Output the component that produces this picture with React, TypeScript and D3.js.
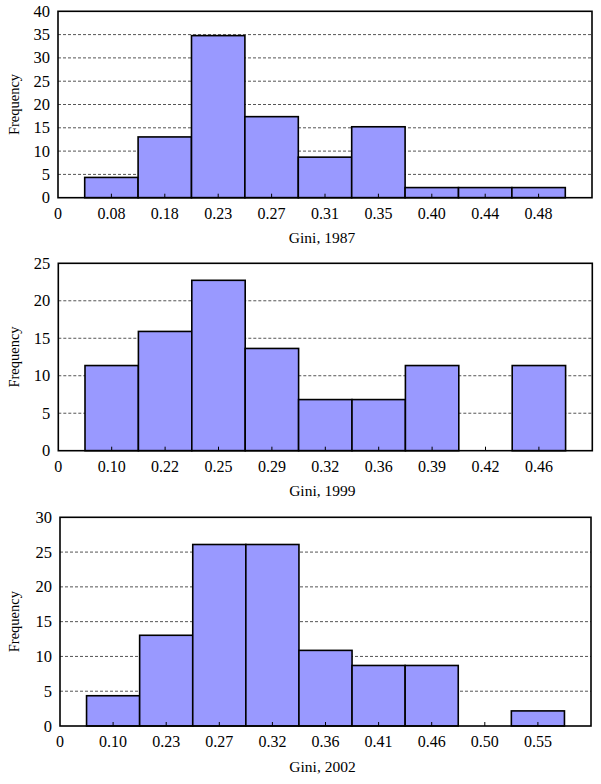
import React from "react";
import * as d3 from "d3";

const labels1987 = ["0", "0.08", "0.18", "0.23", "0.27", "0.31", "0.35", "0.40", "0.44", "0.48"];
const values1987 = [4.35, 13.04, 34.78, 17.39, 8.7, 15.22, 2.17, 2.17, 2.17];
const yTicks1987 = [0, 5, 10, 15, 20, 25, 30, 35, 40];

const labels1999 = ["0", "0.10", "0.22", "0.25", "0.29", "0.32", "0.36", "0.39", "0.42", "0.46"];
const values1999 = [11.36, 15.91, 22.73, 13.64, 6.82, 6.82, 11.36, 0, 11.36];
const yTicks1999 = [0, 5, 10, 15, 20, 25];

const labels2002 = ["0", "0.10", "0.23", "0.27", "0.32", "0.36", "0.41", "0.46", "0.50", "0.55"];
const values2002 = [4.35, 13.04, 26.09, 26.09, 10.87, 8.7, 8.7, 0, 2.17];
const yTicks2002 = [0, 5, 10, 15, 20, 25, 30];

const titles = ["Gini, 1987", "Gini, 1999", "Gini, 2002"];

type PanelProps = {
  labels: string[];
  values: number[];
  yTicks: number[];
  title: string;
  left: number;
  right: number;
  top: number;
  bottom: number;
};

const FONT = "'Liberation Serif', 'Times New Roman', serif";

function Panel({ labels, values, yTicks, title, left, right, top, bottom }: PanelProps) {
  const x = d3.scaleLinear().domain([0, labels.length]).range([left, right]);
  const yMax = yTicks[yTicks.length - 1];
  const y = d3.scaleLinear().domain([0, yMax]).range([bottom, top]);
  const bw = x(1) - x(0);
  return (
    <g>
      {yTicks
        .filter((t) => t > 0 && t < yMax)
        .map((t) => (
          <line
            key={"g" + t}
            x1={left}
            x2={right}
            y1={y(t)}
            y2={y(t)}
            stroke="#555"
            strokeWidth={1}
            strokeDasharray="3,2"
          />
        ))}
      {values.map((v, i) =>
        v > 0 ? (
          <rect
            key={"b" + i}
            x={x(i + 1) - bw / 2}
            y={y(v)}
            width={bw}
            height={y(0) - y(v)}
            fill="#9999ff"
            stroke="#000"
            strokeWidth={1.6}
          />
        ) : null
      )}
      {labels.map((l, i) =>
        i > 0 ? (
          <line key={"t" + i} x1={x(i)} x2={x(i)} y1={bottom} y2={bottom - 4} stroke="#000" strokeWidth={1} />
        ) : null
      )}
      <rect x={left} y={top} width={right - left} height={bottom - top} fill="none" stroke="#000" strokeWidth={1.6} />
      {yTicks.map((t) => (
        <text key={"yl" + t} x={left - 8} y={y(t) + 5.5} textAnchor="end" fontSize={16.5} fontFamily={FONT} fill="#000">
          {t}
        </text>
      ))}
      {labels.map((l, i) => (
        <text key={"xl" + i} x={x(i)} y={bottom + 21} textAnchor="middle" fontSize={16} fontFamily={FONT} fill="#000">
          {l}
        </text>
      ))}
      <text x={(left + right) / 2 - 3} y={bottom + 45.5} textAnchor="middle" fontSize={15.5} fontFamily={FONT} fill="#000">
        {title}
      </text>
      <text
        transform={`translate(19,${(top + bottom) / 2}) rotate(-90)`}
        textAnchor="middle"
        fontSize={14.5}
        fontFamily={FONT}
        fill="#000"
      >
        Frequency
      </text>
    </g>
  );
}

export default function App() {
  return (
    <svg
      width={601}
      height={784}
      style={{ position: "absolute", left: 0, top: 0, background: "#fff" }}
    >
      <rect x={0} y={0} width={601} height={784} fill="#fff" />
      <Panel labels={labels1987} values={values1987} yTicks={yTicks1987} title={titles[0]} left={58} right={592} top={11.3} bottom={197.7} />
      <Panel labels={labels1999} values={values1999} yTicks={yTicks1999} title={titles[1]} left={58.3} right={592.3} top={263.3} bottom={450.7} />
      <Panel labels={labels2002} values={values2002} yTicks={yTicks2002} title={titles[2]} left={60} right={591} top={517.3} bottom={726} />
    </svg>
  );
}
